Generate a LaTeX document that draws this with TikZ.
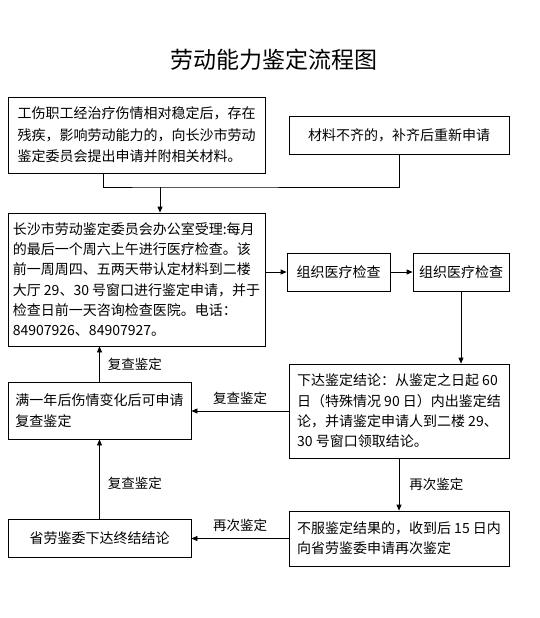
\documentclass[tikz,border=0pt]{standalone}
\usepackage{fontspec}
\setmainfont{Noto Sans CJK SC}
\usetikzlibrary{arrows.meta, positioning, calc}
\tikzset{
    box/.style={
        draw=black,
        line width=0.8pt,
        fill=white,
        align=left,
        inner sep=4pt,
        font=\fontsize{14}{20.3}\selectfont
    },
    centerbox/.style={
        box,
        align=center
    },
    arrow/.style={
        -{Triangle[length=6pt,width=5pt]},
        line width=0.8pt,
        black
    },
    line/.style={
        line width=0.8pt,
        black
    },
    tag/.style={
        font=\fontsize{13.5}{16}\selectfont,
        inner sep=2pt
    }
}

\begin{document}
\begin{tikzpicture}[x=1pt, y=-1pt]
        \useasboundingbox (0,0) rectangle (539,618);

        % Title
        \node[font=\fontsize{23}{26}\selectfont] (title) at (274,60) {劳动能力鉴定流程图};

        % Application
        \node[box, minimum width=257pt, minimum height=76pt, font=\fontsize{14}{21.5}\selectfont] (apply) at (136.5,135) {
            工伤职工经治疗伤情相对稳定后，存在\\
            残疾，影响劳动能力的，向长沙市劳动\\
            鉴定委员会提出申请并附相关材料。
        };
        \node[centerbox, minimum width=220pt, minimum height=38pt] (refill) at (399,135) {材料不齐的，补齐后重新申请};

        % Office
        \node[box, minimum width=257pt, minimum height=133pt] (office) at (136.5,279.5) {
            长沙市劳动鉴定委员会办公室受理:每月\\
            的最后一个周六上午进行医疗检查。该\\
            前一周周四、五两天带认定材料到二楼\\
            大厅 29、30 号窗口进行鉴定申请，并于\\
            检查日前一天咨询检查医院。电话：\\
            84907926、84907927。
        };
        \node[centerbox, minimum width=103pt, minimum height=38pt] (check1) at (338.5,272) {组织医疗检查};
        \node[centerbox, minimum width=96pt, minimum height=38pt] (check2) at (461,272) {组织医疗检查};

        % Conclusion
        \node[box, minimum width=220pt, minimum height=94pt] (verdict) at (399,411) {
            下达鉴定结论：从鉴定之日起 60\\
            日（特殊情况 90 日）内出鉴定结\\
            论，并请鉴定申请人到二楼 29、\\
            30 号窗口领取结论。
        };
        \node[box, minimum width=183pt, minimum height=57pt] (review) at (99.5,410.5) {
            满一年后伤情变化后可申请\\
            复查鉴定
        };

        % Second appraisal
        \node[box, minimum width=220pt, minimum height=55pt] (again) at (399,538.5) {
            不服鉴定结果的，收到后 15 日内\\
            向省劳鉴委申请再次鉴定
        };
        \node[centerbox, minimum width=183pt, minimum height=38pt] (final) at (99.5,538) {省劳鉴委下达终结结论};

        % Connectors
        \coordinate (merge) at (160,187);
        \draw[line] ([xshift=-33.5pt]apply.south) |- (merge) -| (refill.south);
        \draw[arrow] (merge) -- (office.north -| merge);
        \draw[arrow] (office.east |- check1.west) -- (check1.west);
        \draw[arrow] (check1.east) -- (check2.west);
        \draw[arrow] (check2.south) -- (check2.south |- verdict.north);
        \draw[arrow] (verdict.west) -- node[tag, above=4pt] {复查鉴定} (verdict.west -| review.east);
        \draw[arrow] (review.north) -- node[tag, right=6pt] {复查鉴定} (review.north |- office.south);
        \draw[arrow] (verdict.south) -- node[tag, right=8pt] {再次鉴定} (again.north);
        \draw[arrow] (again.west) -- node[tag, above=4pt] {再次鉴定} (again.west -| final.east);
        \draw[arrow] (final.north) -- node[tag, right=6pt, pos=0.45] {复查鉴定} (review.south);
    \end{tikzpicture}
\end{document}
